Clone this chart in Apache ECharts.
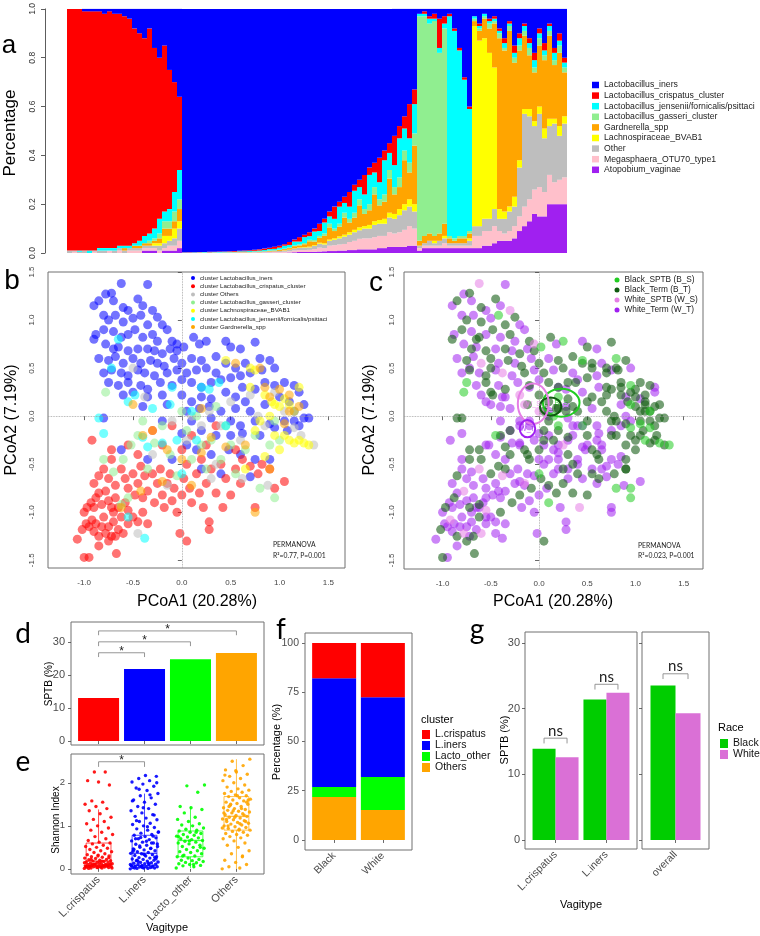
<!DOCTYPE html>
<html>
<head>
<meta charset="utf-8">
<title>Vagitype, race and SPTB</title>
<script src="https://cdn.jsdelivr.net/npm/echarts@6.0.0/dist/echarts.min.js"></script>
<style>
  html, body { margin: 0; padding: 0; background: #fff; }
  #chart { width: 760px; height: 936px; }
</style>
</head>
<body>
<div id="chart"></div>
<script>
const FONT = 'Liberation Sans';
const LETTER = 'Lato';

// ===== a: relative abundance per sample (100 samples, ordered by vagitype) =====
const taxa = ['Lactobacillus_iners', 'Lactobacillus_crispatus_cluster', 'Lactobacillus_jensenii/fornicalis/psittaci',
  'Lactobacillus_gasseri_cluster', 'Gardnerella_spp', 'Lachnospiraceae_BVAB1', 'Other', 'Megasphaera_OTU70_type1', 'Atopobium_vaginae'];
const taxaColors = ['#0000ff', '#ff0000', '#00ffff', '#90ee90', '#ffa500', '#ffff00', '#bebebe', '#ffc0cb', '#a020f0'];

const abIners = [0,0,0,1,1,1,1,2,1,2,2,3,4,8,10,12,8,16,20,15,25,30,36,
  99.7,99.7,99.7,99.6,99.6,99.5,99.5,99.4,99.4,99.3,99.2,99.1,99,98.9,98.7,98.5,98.2,97.8,97.4,97,96.4,95.5,94.5,93.5,92.5,91.5,90,88,86,83,81,79,77,75,72,70,68,65,63,61,58,55,52,48,44,39,33,
  2,1,3,2,4,3, 2,8,16,28,40, 3,6,2,4,3, 8,12,5,15,10,6,12,18,8,14,6,16,10,20];
const abCrisp = [99,99,99,98,98,98,97,96,97,96,95,94,93,88,85,81,84,74,66,68,57,45,30,
  0.1,0.1,0,0.1,0,0.2,0.1,0.2,0.1,0.2,0.3,0.2,0.3,0.3,0.4,0.5,0.6,0.6,0.9,0.8,0.6,1.2,0.8,1.8,1.0,1.6,1.2,3,1.5,2,5,2,2.5,6,2.5,3,8,3,4,10,4,4,12,5,5,14,6,
  0,1,1,2,12,3, 1,1,1,1,1, 0,1,0,1,1, 1,2,1,3,2,1,2,3,2,3,1,2,3,2];
const abJens = [0,0,0.5,0,1,0,1,1,1,1,1,1,1,1,2,3,3,4,6,4,5,8,12,
  0.1,0,0.1,0.1,0.2,0.1,0.1,0.2,0.2,0.2,0.2,0.3,0.3,0.4,0.3,0.4,0.5,0.6,0.6,0.8,1.2,1.0,1.6,1.2,2.4,1.5,3.5,2,4.5,3,4,7,4,5,9,5,6,12,6,7,14,7,9,16,9,10,12,
  1,1,2,1,2,2, 90,85,76,64,50, 1,1,1,1,1, 1,2,1,2,3,2,2,3,2,2,2,3,2,2];
const abGass = [0,0,0,0,0,0,0,0,0,0,0,0,0,0,0,0,1,1,2,3,3,4,4,
  0,0,0,0,0,0,0,0,0,0,0,0,0,0.1,0,0.1,0,0.1,0.1,0.2,0.2,0.3,0.3,0.4,0.5,0.6,0.6,0.8,1,1.5,1,1.2,2,1.5,2,2.5,2,2.5,3,2.5,3,3.5,3,4,4,4,5,
  92,90,86,88,74,80, 1,1,1,1,1, 1,1,1,2,1, 2,1,2,2,2,2,3,2,3,2,2,2,3,2];
const abGard = [0,0,0,0,0,0,0,0,0,0,0,1,0,1,1,1,1,1,2,3,3,3,5,
  0,0,0.1,0,0.1,0,0.1,0,0.1,0.1,0.1,0.1,0.1,0.1,0.2,0.2,0.2,0.3,0.3,0.4,0.5,0.6,0.9,0.8,1.2,2.2,1.5,2,3,5,3,4,7,4,5,9,5,6,11,6,7,14,8,9,18,11,24,
  2,3,3,2,3,5, 2,1,2,2,2, 2,4,8,10,18, 70,66,72,55,45,30,22,20,25,28,34,22,30,18];
const abBvab = [0,0,0,0,0,0,0,0,0,0,0,0,0,0,0,0,0,1,1,3,2,4,3,
  0,0,0,0,0,0,0,0,0,0,0,0,0,0,0,0,0,0,0,0,0.1,0.1,0.1,0.2,0.2,0.3,0.3,0.4,0.5,0.5,0.6,0.8,0.8,1,1,1.2,1,1.5,1.5,1.5,2,2,2,2.5,2.5,3,3,
  0,0,0,1,0,1, 0,0,0,0,1, 82,76,74,68,58, 4,3,2,4,3,2,3,2,3,4,3,2,4,3];
const abOther = [1,0.5,0.5,1,0,0.5,1,1,0,1,1,1,1,1,1,1,1,1,2,2,2,3,5,
  0.1,0.1,0.1,0.1,0.1,0.1,0.1,0.1,0.1,0.1,0.1,0.2,0.2,0.1,0.2,0.1,0.2,0.3,0.3,0.4,0.5,0.6,0.8,0.9,1.0,1.0,1.3,1.6,1.5,2,2.2,2.5,3,3,3.5,3.5,4,4,5,5,5,6,6,7,8,8,7,
  1,1,2,1,2,2, 1,1,1,1,2, 4,4,5,5,7, 5,6,8,8,20,38,34,26,30,22,20,24,18,22];
const abMega = [0,0.5,0,0,0,0.5,0,0,1,0,1,0,1,1,1,1,1,1,1,1,2,2,3,
  0,0.1,0,0.1,0,0.1,0.1,0.1,0.1,0.1,0.1,0.1,0.1,0.1,0.2,0.2,0.2,0.2,0.3,0.3,0.4,0.5,0.7,0.8,0.8,0.9,1.1,1.6,1.3,2.2,2.4,2.5,2.7,3.3,3.8,4.3,4.5,4.5,5,5,5,6,5.5,6,7,8,7,
  1,1,1,1,1,2, 1,1,1,1,1, 5,5,6,6,7, 4,3,4,5,6,8,9,10,12,10,12,9,10,11];
const abAtop = [0,0,0,0,0,0,0,0,0,0,0,0,0,0,0,1,1,1,0,1,1,1,2,
  0,0,0,0,0,0,0,0,0,0,0,0,0,0,0,0,0.1,0.1,0.1,0.1,0.1,0.2,0.3,0.4,0.4,0.4,0.5,0.6,0.7,0.8,0.8,1,1,1.2,1.2,1.5,1.5,1.5,1.5,2,2,2.5,2.5,2.5,2.5,3,3,
  1,2,2,2,2,2, 2,2,2,2,2, 2,2,3,3,4, 5,5,5,6,9,11,13,16,15,15,20,20,20,20];

const taxaValues = [abIners, abCrisp, abJens, abGass, abGard, abBvab, abOther, abMega, abAtop];
const sampleIds = abIners.map((_, i) => 'S' + (i + 1));
const sampleTotals = sampleIds.map((_, i) => taxaValues.reduce((s, arr) => s + arr[i], 0));

// ===== b / c: PCoA coordinates [PCoA1, PCoA2, race-outcome group] by vagitype cluster =====
// group: 0 Black_SPTB, 1 Black_Term, 2 White_SPTB, 3 White_Term
const inersPts = [
  [-0.62,1.38,2],[-0.35,1.37,3],[-0.78,1.27,3],[-0.72,1.28,1],[-0.9,1.15,3],[-0.85,1.2,1],[-0.7,1.2,3],[-0.6,1.13,1],[-0.55,1.1,3],[-0.45,1.22,1],[-0.4,1.15,3],[-0.3,1.1,2],[-0.25,1.03,1],
  [-0.8,1.05,3],[-0.75,1.0,1],[-0.68,1.05,3],[-0.6,0.98,1],[-0.5,1.02,3],[-0.42,1.05,0],[-0.35,0.95,1],[-0.2,0.95,3],[-0.15,0.9,3],
  [-0.88,0.85,3],[-0.8,0.9,1],[-0.7,0.88,3],[-0.62,0.82,1],[-0.55,0.85,3],[-0.48,0.9,1],[-0.4,0.82,3],[-0.3,0.85,1],[-0.25,0.78,3],[-0.1,0.78,1],[-0.05,0.75,2],
  [-0.9,0.8,1],[-0.78,0.75,3],[-0.7,0.7,1],[-0.65,0.72,3],[-0.55,0.68,1],[-0.45,0.7,3],[-0.35,0.7,1],[-0.28,0.68,3],[-0.2,0.65,1],[-0.12,0.7,3],[-0.05,0.68,1],[0.02,0.72,0],[0.12,0.82,1],[0.18,0.75,3],[0.25,0.78,0],
  [-0.85,0.6,3],[-0.75,0.58,1],[-0.68,0.62,3],[-0.6,0.55,2],[-0.5,0.6,1],[-0.42,0.55,3],[-0.32,0.58,1],[-0.25,0.55,3],[-0.18,0.52,1],[-0.08,0.6,3],[0.0,0.55,1],[0.1,0.6,3],[0.2,0.58,1],[0.35,0.62,1],[0.45,0.78,3],[0.5,0.72,1],[0.6,0.7,3],[0.75,0.77,1],
  [-0.8,0.45,3],[-0.72,0.48,1],[-0.62,0.45,3],[-0.55,0.42,1],[-0.45,0.48,3],[-0.38,0.45,2],[-0.28,0.42,3],[-0.15,0.45,1],[-0.05,0.48,3],[0.05,0.45,1],[0.15,0.48,3],[0.25,0.5,1],[0.35,0.45,3],[0.45,0.55,1],[0.55,0.5,1],[0.65,0.55,3],[0.8,0.6,0],[0.9,0.58,1],
  [-0.75,0.35,0],[-0.65,0.32,3],[-0.55,0.35,1],[-0.42,0.32,3],[-0.35,0.28,1],[-0.22,0.35,3],[-0.1,0.32,1],[0.0,0.38,3],[0.1,0.35,1],[0.2,0.3,3],[0.3,0.35,1],[0.4,0.38,3],[0.5,0.4,1],[0.6,0.42,3],[0.7,0.45,1],[0.82,0.48,1],[0.95,0.5,3],
  [-0.6,0.22,3],[-0.5,0.25,1],[-0.35,0.2,3],[-0.2,0.22,2],[0.0,0.22,1],[0.1,0.15,1],[0.2,0.2,0],[0.3,0.18,1],[0.45,0.25,3],[0.55,0.2,1],[0.62,0.3,3],[0.75,0.28,1],[0.85,0.35,1],[0.95,0.32,0],[1.05,0.35,1],[1.15,0.32,1],[1.2,0.25,3],
  [-0.4,0.1,3],[-0.15,0.12,2],[0.05,0.05,1],[0.18,0.08,1],[0.28,0.1,3],[0.4,0.05,1],[0.55,0.08,3],[0.65,0.15,1],[0.7,0.05,1],[0.85,0.12,3],[1.0,0.2,1],[1.1,0.15,1],[1.25,0.12,1],[1.15,0.05,0],
  [-0.8,-0.02,1],[-0.2,-0.05,3],[0.1,-0.05,1],[0.3,-0.02,3],[0.5,-0.05,1],[0.6,-0.1,3],[0.75,-0.05,1],[0.9,-0.08,1],[1.05,-0.05,1],[1.15,-0.05,1],[1.25,-0.02,1],[1.2,-0.1,1],[1.3,-0.02,1],
  [0.0,-0.18,3],[0.2,-0.15,1],[0.35,-0.2,3],[0.5,-0.2,1],[0.62,-0.18,3],[0.8,-0.2,1],[0.95,-0.12,0],[1.08,-0.15,1],
  [0.15,-0.35,3],[0.3,-0.4,1],[0.48,-0.35,3],[0.6,-0.4,1],[0.75,-0.45,3],[0.2,-0.55,3],[0.4,-0.6,1],[0.7,-0.63,3],[-0.62,-0.35,1],[-0.35,-0.45,3],[-0.1,-0.45,1],[0.05,-0.3,3],[0.9,-0.45,1]
];
const crispPts = [
  [-1.0,-1.47,1],[-0.95,-1.47,3],[-0.67,-1.43,1],[-1.07,-1.28,3],[-1.02,-1.18,1],[-0.98,-1.12,3],[-0.95,-1.15,3],[-0.92,-1.08,2],[-0.9,-1.2,3],[-0.88,-1.12,3],[-0.85,-1.25,1],[-0.82,-1.15,3],[-0.8,-1.05,3],[-0.78,-1.22,2],[-0.75,-1.15,3],[-0.72,-1.25,3],[-0.7,-1.1,3],[-0.68,-1.25,1],[-0.65,-1.18,3],[-0.6,-1.22,2],[-0.55,-1.12,3],
  [-1.0,-1.0,3],[-0.97,-0.95,1],[-0.93,-0.9,3],[-0.9,-0.95,3],[-0.88,-0.85,1],[-0.85,-0.8,3],[-0.82,-0.92,3],[-0.78,-0.78,2],[-0.75,-0.88,3],[-0.72,-0.95,1],[-0.7,-1.0,3],[-0.68,-0.85,3],[-0.65,-0.95,3],[-0.62,-1.05,1],[-0.58,-0.9,3],[-0.55,-0.98,2],[-0.5,-1.05,3],[-0.45,-1.1,3],[-0.4,-1.0,1],[-0.35,-1.12,3],
  [-0.9,-0.7,3],[-0.85,-0.62,1],[-0.8,-0.55,3],[-0.75,-0.65,3],[-0.72,-0.45,1],[-0.68,-0.72,3],[-0.62,-0.55,2],[-0.58,-0.65,3],[-0.55,-0.75,3],[-0.5,-0.6,1],[-0.48,-0.82,3],[-0.45,-0.7,3],[-0.42,-0.52,1],[-0.4,-0.85,3],[-0.38,-0.62,2],[-0.35,-0.78,3],[-0.3,-0.6,3],[-0.28,-0.9,1],[-0.25,-0.7,3],[-0.22,-0.55,3],[-0.2,-0.82,1],[-0.18,-0.95,3],[-0.15,-0.7,2],[-0.12,-0.6,3],[-0.1,-0.88,3],[-0.08,-0.75,1],[-0.05,-1.0,3],
  [0.0,-0.82,3],[0.02,-0.65,1],[0.05,-0.5,3],[0.08,-0.75,3],[0.1,-0.9,0],[0.15,-0.6,3],[0.18,-0.8,1],[0.2,-0.45,3],[0.22,-0.95,3],[0.25,-0.7,1],[0.28,-1.1,3],[0.3,-0.55,3],[0.35,-0.8,1],[0.4,-0.5,3],[0.42,-0.95,2],[0.45,-0.65,3],[0.5,-0.82,1],[0.55,-0.55,3],[0.6,-0.7,3],[0.62,-0.45,1],[0.7,-0.52,3],[0.75,-0.95,3],[0.78,-0.6,1],[0.82,-0.5,3],[0.9,-0.55,1],[0.95,-0.75,0],[1.05,-0.68,3],
  [-0.92,-0.25,3],[-0.72,-0.35,1],[-0.55,-0.3,3],[-0.45,-0.4,3],[-0.3,-0.15,1],[-0.2,-0.3,3],[-0.1,-0.1,3],[0.0,-0.35,1],[0.1,-0.2,3],[0.25,-0.3,2],[0.35,-0.1,3],[0.55,-0.35,1],
  [0.05,-1.3,1],[-0.02,-1.22,3],[0.28,-1.18,3],[-0.85,-1.35,3],[-0.75,-1.3,1]
];
const othersPts = [[-0.45,-1.22,3],[-0.3,-0.4,1],[-0.1,-0.05,3],[0.05,-0.25,1],[0.1,0.0,3],[0.2,-0.1,0],[0.28,0.05,1],[0.4,-0.1,3],[0.5,0.15,1],[0.6,-0.25,3],[0.7,0.22,1],[0.78,0.0,1],[0.85,-0.1,3],
  [0.95,0.25,1],[1.05,0.05,1],[1.15,-0.12,0],[1.22,-0.2,1],[1.35,-0.3,0],[0.3,-0.65,3],[0.62,-0.65,1],[0.88,-0.72,3],[-0.15,-0.72,3],[0.35,-0.5,1],[-0.38,0.2,3],[-0.5,0.5,1]];
const gasseriPts = [[-0.8,-0.45,3],[-0.7,-0.58,3],[-0.6,-0.45,1],[-0.52,-0.3,3],[-0.45,-0.2,0],[-0.4,-0.05,3],[-0.35,-0.55,1],[-0.28,-0.28,3],[-0.2,-0.1,3],[-0.12,-0.4,1],[-0.05,-0.62,3],[0.0,0.05,2],
  [0.05,-0.15,1],[0.1,-0.45,3],[0.15,0.0,0],[0.2,-0.3,3],[0.25,-0.55,1],[0.3,-0.25,3],[0.35,0.1,1],[0.4,-0.45,3],[0.45,-0.1,0],[0.5,-0.3,3],[0.55,-0.6,1],[0.65,-0.35,3],[0.75,-0.2,1],[0.8,-0.75,0],
  [0.9,-0.3,1],[0.95,-0.05,3],[1.0,-0.25,1],[0.95,-0.85,0],[-0.78,0.25,0],[-0.55,-0.85,3],[-0.62,-0.92,1]];
const bvabPts = [[0.7,0.5,1],[0.75,0.48,3],[0.45,0.58,0],[0.85,0.22,1],[0.92,0.15,1],[0.95,0.12,0],[1.0,0.1,1],[1.05,0.18,3],[1.1,0.12,1],[1.15,0.05,1],[0.9,0.0,3],[0.8,-0.05,1],[0.75,-0.15,3],
  [0.95,-0.2,1],[1.05,-0.2,1],[1.1,-0.25,0],[1.15,-0.28,1],[1.2,-0.25,1],[1.25,-0.28,0],[1.3,-0.3,1],[1.0,-0.35,1],[0.85,-0.42,3],[0.65,-0.55,3],[0.7,0.3,1],[1.2,0.3,3]];
const jensPts = [[-0.85,-0.02,1],[-0.8,-0.18,3],[-0.72,0.5,3],[-0.65,0.8,1],[-0.55,0.15,3],[-0.48,0.22,1],[-0.4,-0.22,3],[-0.35,-0.32,1],[-0.3,0.08,3],[-0.2,-0.28,3],[-0.12,0.12,1],
  [-0.05,-0.25,3],[0.0,-0.6,0],[0.1,0.05,3],[0.2,0.3,1],[0.28,0.28,3],[0.38,0.35,1],[0.45,-0.1,3],[-0.55,-1.05,3],[-0.38,-1.27,3],[0.15,-0.25,1],[-0.1,0.3,3]];
const gardPts = [[-0.5,0.12,3],[-0.4,-0.2,1],[-0.3,-0.15,3],[-0.2,-0.68,3],[-0.15,-0.35,1],[-0.62,-0.95,3],[0.0,-0.45,3],[0.1,-0.72,1],[0.2,-0.38,3],[0.3,-0.22,1],[0.45,-0.32,3],[0.55,0.55,1],
  [0.65,-0.3,3],[0.8,0.5,1],[0.85,0.3,1],[0.9,0.2,3],[1.0,0.28,1],[1.1,0.22,1],[1.05,-0.08,0],[1.1,0.05,1],[1.2,0.1,1],[0.75,-1.0,3],[0.9,-0.55,1],[-0.42,-0.78,3],[0.2,0.08,1]];

const bClusterNames = ['cluster Lactobacillus_iners', 'cluster Lactobacillus_crispatus_cluster', 'cluster Others',
  'cluster Lactobacillus_gasseri_cluster', 'cluster Lachnospiraceae_BVAB1', 'cluster Lactobacillus_jensenii/fornicalis/psittaci', 'cluster Gardnerella_spp'];
const bClusterColors = ['#0000ff', '#ff0000', '#bebebe', '#90ee90', '#ffff00', '#00ffff', '#ffa500'];
const bClusterPts = [inersPts, crispPts, othersPts, gasseriPts, bvabPts, jensPts, gardPts];

const cGroupNames = ['Black_SPTB (B_S)', 'Black_Term (B_T)', 'White_SPTB (W_S)', 'White_Term (W_T)'];
const cGroupColors = ['#22cc22', '#0f5a0f', '#e57ee5', '#a020f0'];
// group centroid ellipses
const cEllipseLabels = ['B_S', 'B_T', 'W_S', 'W_T'];
const cEllipseCx = [0.23, 0.12, -0.06, -0.12];
const cEllipseCy = [0.14, 0.10, 0.13, -0.13];
const cEllipseRx = [0.19, 0.11, 0.16, 0.08];
const cEllipseRy = [0.145, 0.095, 0.21, 0.09];

// ===== d / e: SPTB rate and Shannon index per vagitype =====
const vagitypes = ['L.crispatus', 'L.iners', 'Lacto_other', 'Others'];
const vagColors = ['#ff0000', '#0000ff', '#00ff00', '#ffa500'];
const dSptb = [13.0, 21.8, 24.7, 26.6];
const dBracketFrom = [1, 1, 1];
const dBracketTo = [2, 3, 4];
const dBracketY = [26.7, 30.0, 33.3];

const crispShannon = [0.01,0.02,0.02,0.03,0.03,0.04,0.04,0.05,0.05,0.05,0.06,0.06,0.07,0.07,0.08,0.08,0.09,0.09,0.1,0.1,0.11,0.12,0.12,0.13,0.14,0.15,0.16,0.17,0.18,0.19,
  0.2,0.21,0.22,0.24,0.25,0.27,0.28,0.3,0.32,0.33,0.35,0.38,0.4,0.42,0.45,0.48,0.5,0.52,0.55,0.58,0.6,0.62,0.66,0.7,0.75,0.8,0.85,0.9,0.95,1.0,1.05,1.1,1.15,1.2,1.28,1.35,
  1.4,1.45,1.5,1.55,1.58,1.95,2.02,2.05,2.25,2.25,0.02,0.04,0.06,0.08,0.03,0.05,0.07,0.1,0.12,0.15,0.01,0.09,0.11,0.14,0.18,0.22,0.26,0.3];
const inersShannon = [0.0,0.01,0.01,0.02,0.02,0.03,0.03,0.04,0.05,0.05,0.06,0.07,0.08,0.08,0.09,0.1,0.11,0.12,0.13,0.14,0.15,0.16,0.18,0.19,0.2,0.22,0.23,0.25,0.26,0.28,
  0.3,0.31,0.33,0.35,0.36,0.38,0.4,0.42,0.44,0.46,0.48,0.5,0.52,0.55,0.57,0.6,0.62,0.65,0.68,0.7,0.72,0.75,0.78,0.8,0.83,0.86,0.9,0.93,0.96,1.0,1.03,1.06,1.1,1.14,1.18,
  1.22,1.26,1.3,1.35,1.4,1.45,1.5,1.55,1.6,1.65,1.7,1.75,1.82,1.88,1.92,1.97,2.02,2.05,2.1,2.15,2.17,0.02,0.04,0.06,0.1,0.14,0.2,0.27,0.34,0.41,0.47,0.53,0.58,0.64,0.7,
  0.76,0.03,0.07,0.12,0.17,0.24,0.32,0.45,0.6,0.73,0.85,0.98,1.12,1.25,1.42,1.58,1.72,1.85,2.0];
const lactoShannon = [0.02,0.05,0.07,0.08,0.1,0.12,0.14,0.15,0.17,0.19,0.2,0.22,0.25,0.28,0.3,0.32,0.35,0.38,0.4,0.42,0.45,0.48,0.5,0.52,0.55,0.58,0.6,0.62,0.64,0.66,
  0.68,0.7,0.72,0.74,0.76,0.78,0.8,0.82,0.85,0.88,0.9,0.92,0.95,1.0,1.02,1.05,1.1,1.15,1.2,1.3,1.38,1.42,1.45,1.78,1.93,1.95,0.1,0.3,0.5,0.65,0.75,0.85];
const othersShannon = [0.0,0.02,0.05,0.1,0.15,0.2,0.28,0.35,0.42,0.5,0.55,0.6,0.65,0.7,0.72,0.75,0.78,0.8,0.82,0.85,0.87,0.9,0.92,0.94,0.96,0.98,1.0,1.02,1.04,1.06,
  1.08,1.1,1.12,1.14,1.16,1.18,1.2,1.22,1.24,1.26,1.28,1.3,1.32,1.34,1.36,1.38,1.4,1.42,1.45,1.48,1.5,1.52,1.55,1.58,1.6,1.62,1.65,1.68,1.7,1.72,1.75,1.78,1.8,1.83,1.86,
  1.9,1.95,2.0,2.05,2.1,2.15,2.2,2.25,2.3,2.4,2.5,2.55,0.9,1.0,1.1,1.2,1.3,1.4,1.5,1.6,1.7,1.15,1.25,1.35,0.95,1.05,1.45,1.55,2.28,2.18,0.3];
const eShannon = [crispShannon, inersShannon, lactoShannon, othersShannon];
// box statistics
const eBoxLow = [0, 0, 0.02, 0];
const eBoxQ1 = [0.07, 0.08, 0.28, 0.9];
const eBoxMed = [0.18, 0.36, 0.66, 1.22];
const eBoxQ3 = [0.6, 0.78, 0.88, 1.68];
const eBoxHigh = [1.38, 1.75, 1.45, 2.55];

// ===== f: vagitype composition by race =====
const races = ['Black', 'White'];
const raceColors = ['#00cd00', '#da70d6'];
const fCrispatus = [17.9, 27.5];
const fIners = [55.2, 40.5];
const fLactoOther = [5.1, 16.8];
const fOthers = [21.8, 15.2];

// ===== g: SPTB by race within vagitype =====
const gVagitypes = ['L.crispatus', 'L.iners'];
const gBlack = [13.9, 21.4];
const gWhite = [12.6, 22.4];
const gOverall = [23.5, 19.3];
const gBracketY = [15.5, 23.7];
const gOverallBracketY = 25.3;

// ---------- helpers ----------
const jitter = i => (((i * 0.618034) % 1) - 0.5) * 0.62;

function valueAxis(grid, min, max, ticks, label, tick) {
  return {
    type: 'value', gridIndex: grid, min: min, max: max,
    axisLine: { show: false },
    splitLine: { show: false },
    axisTick: Object.assign({ show: true, customValues: ticks, length: 3, lineStyle: { color: '#444', width: 0.8 } }, tick || {}),
    axisLabel: Object.assign({ customValues: ticks, fontSize: 10.5, color: '#4d4d4d', margin: 6, fontFamily: FONT }, label || {})
  };
}

function bracketSeries(xi, yi, rows, tip, text, opts) {
  return {
    type: 'custom', xAxisIndex: xi, yAxisIndex: yi, silent: true, z: 6,
    data: rows,
    renderItem(params, api) {
      const y = api.value(2);
      const spread = opts.spread || 0;
      const xl = api.coord([api.value(0), y])[0] - spread;
      const xr = api.coord([api.value(1), y])[0] + spread;
      const yTop = api.coord([api.value(0), y])[1];
      const yLow = api.coord([api.value(0), y - tip])[1];
      return {
        type: 'group', children: [
          { type: 'polyline', shape: { points: [[xl, yLow], [xl, yTop], [xr, yTop], [xr, yLow]] },
            style: { stroke: '#8a8a8a', lineWidth: 0.9, fill: null } },
          { type: 'text', x: (xl + xr) / 2, y: yTop + opts.dy,
            style: { text: text, fontSize: opts.size, fontFamily: opts.font, fill: '#222', align: 'center', verticalAlign: 'bottom' } }
        ]
      };
    }
  };
}

const zeroLines = {
  silent: true, symbol: ['none', 'none'], label: { show: false }, animation: false,
  lineStyle: { type: 'dotted', color: '#9a9a9a', width: 0.8 },
  data: [{ xAxis: 0 }, { yAxis: 0 }]
};

function txt(text, x, y, size, o) {
  o = o || {};
  return {
    type: 'text', x: x, y: y, rotation: o.rot || 0, silent: true, z: 100,
    style: { text: text, fontSize: size, fontFamily: o.font || FONT, fill: o.color || '#000',
      align: o.align || 'center', verticalAlign: 'middle' }
  };
}

// ---------- series ----------
const aSeries = taxa.map((name, k) => ({
  type: 'bar', name: name, xAxisIndex: 0, yAxisIndex: 0, stack: 'a', barCategoryGap: '0%',
  itemStyle: { color: taxaColors[k] },
  data: taxaValues[k].map((v, i) => v / sampleTotals[i])
})).reverse();

const bSeries = bClusterNames.map((name, k) => ({
  type: 'scatter', name: name, xAxisIndex: 1, yAxisIndex: 1, symbolSize: 9,
  itemStyle: { color: bClusterColors[k], opacity: 0.55 },
  data: bClusterPts[k].map(p => [p[0], p[1]]),
  markLine: k === 0 ? zeroLines : undefined
}));

const allPts = bClusterPts.flat();
const cSeries = [3, 1, 2, 0].map((g, j) => ({
  type: 'scatter', name: cGroupNames[g], xAxisIndex: 2, yAxisIndex: 2, symbolSize: 9,
  itemStyle: { color: cGroupColors[g], opacity: g === 1 ? 0.58 : 0.55 },
  data: allPts.filter(p => p[2] === g).map(p => [p[0], p[1]]),
  markLine: j === 0 ? zeroLines : undefined
}));

const cEllipses = {
  type: 'custom', name: 'centroids', xAxisIndex: 2, yAxisIndex: 2, silent: true, z: 5,
  data: cEllipseLabels.map((_, i) => [cEllipseCx[i], cEllipseCy[i], cEllipseRx[i], cEllipseRy[i]]),
  renderItem(params, api) {
    const c = api.coord([api.value(0), api.value(1)]);
    const s = api.size([api.value(2), api.value(3)]);
    const col = cGroupColors[params.dataIndex];
    return {
      type: 'group', children: [
        { type: 'ellipse', shape: { cx: c[0], cy: c[1], rx: s[0], ry: s[1] }, style: { fill: 'none', stroke: col, lineWidth: 2 } },
        { type: 'text', x: c[0], y: c[1], style: { text: cEllipseLabels[params.dataIndex], fill: col, opacity: 0.75,
          fontSize: 7, fontFamily: FONT, align: 'center', verticalAlign: 'middle' } }
      ]
    };
  }
};

const dSeries = {
  type: 'bar', name: 'SPTB by vagitype', xAxisIndex: 3, yAxisIndex: 3, barWidth: 41,
  itemStyle: { color: p => vagColors[p.dataIndex] },
  data: dSptb.map((v, i) => [i + 1, v])
};

const eBoxes = {
  type: 'custom', name: 'shannon box', xAxisIndex: 4, yAxisIndex: 4, silent: true, z: 2,
  data: eBoxMed.map((m, i) => [i + 1, eBoxLow[i], eBoxQ1[i], m, eBoxQ3[i], eBoxHigh[i]]),
  renderItem(params, api) {
    const x = api.value(0);
    const col = vagColors[params.dataIndex];
    const hw = api.size([0.27, 0])[0];
    const cx = api.coord([x, 0])[0];
    const y = k => api.coord([x, api.value(k)])[1];
    const seg = (x1, y1, x2, y2, w) => ({ type: 'line', shape: { x1: x1, y1: y1, x2: x2, y2: y2 }, style: { stroke: col, lineWidth: w, opacity: 0.7 } });
    return {
      type: 'group', children: [
        seg(cx, y(1), cx, y(2), 1),
        seg(cx, y(4), cx, y(5), 1),
        { type: 'rect', shape: { x: cx - hw, y: y(4), width: 2 * hw, height: y(2) - y(4) },
          style: { fill: 'rgba(255,255,255,0.3)', stroke: col, lineWidth: 1, opacity: 0.7 } },
        seg(cx - hw, y(3), cx + hw, y(3), 1.4)
      ]
    };
  }
};

const ePoints = eShannon.map((vals, k) => ({
  type: 'scatter', name: 'shannon ' + vagitypes[k], xAxisIndex: 4, yAxisIndex: 4, symbolSize: 3.4, z: 3,
  itemStyle: { color: vagColors[k], opacity: 0.9 },
  data: vals.map((v, i) => [k + 1 + jitter(i), v])
}));

// f uses a category axis so the four clusters stack
const fValues = [fCrispatus, fIners, fLactoOther, fOthers];
const fSeries = vagitypes.map((name, k) => ({
  type: 'bar', name: name, xAxisIndex: 5, yAxisIndex: 5, stack: 'f', barWidth: 44,
  itemStyle: { color: vagColors[k] },
  data: fValues[k]
})).reverse();

const gSeries = [
  { type: 'bar', name: 'Black', xAxisIndex: 6, yAxisIndex: 6, barWidth: 23, barGap: '0%', itemStyle: { color: raceColors[0] }, data: gBlack.map((v, i) => [i + 1, v]) },
  { type: 'bar', name: 'White', xAxisIndex: 6, yAxisIndex: 6, barWidth: 23, barGap: '0%', itemStyle: { color: raceColors[1] }, data: gWhite.map((v, i) => [i + 1, v]) },
  { type: 'bar', name: 'Black', xAxisIndex: 7, yAxisIndex: 7, barWidth: 25, barGap: '0%', itemStyle: { color: raceColors[0] }, data: [[1, gOverall[0]]] },
  { type: 'bar', name: 'White', xAxisIndex: 7, yAxisIndex: 7, barWidth: 25, barGap: '0%', itemStyle: { color: raceColors[1] }, data: [[1, gOverall[1]]] }
];

const starOpts = { size: 12, font: FONT, dy: 5 };
const nsOpts = { size: 15, font: LETTER, dy: 0 };
const brackets = [
  bracketSeries(3, 3, dBracketY.map((y, i) => [dBracketFrom[i], dBracketTo[i], y]), 1.3, '*', starOpts),
  bracketSeries(4, 4, [[1, 2, 2.49]], 0.12, '*', starOpts),
  bracketSeries(6, 6, gBracketY.map((y, i) => [i + 1, i + 1, y]), 0.8, 'ns', Object.assign({ spread: 11.5 }, nsOpts)),
  bracketSeries(7, 7, [[1, 1, gOverallBracketY]], 0.8, 'ns', Object.assign({ spread: 12.5 }, nsOpts))
];

// ---------- layout ----------
const panelBorder = { show: true, backgroundColor: 'transparent', borderColor: '#707070', borderWidth: 1 };
const grids = [
  { left: 67, top: 7, width: 500, height: 246 },                        // a
  Object.assign({ left: 48, top: 272, width: 297, height: 296 }, panelBorder),  // b
  Object.assign({ left: 404, top: 272, width: 299, height: 297 }, panelBorder), // c
  Object.assign({ left: 71, top: 622, width: 193, height: 123 }, panelBorder),  // d
  Object.assign({ left: 71, top: 754, width: 193, height: 120 }, panelBorder),  // e
  { left: 309.75, top: 633, width: 97.5, height: 217 },                          // f (border drawn below)
  Object.assign({ left: 525, top: 632, width: 112, height: 217 }, panelBorder), // g (vagitypes)
  Object.assign({ left: 642, top: 632, width: 67, height: 217 }, panelBorder)   // g (overall)
];

const pcoaTicksX = [-1, -0.5, 0, 0.5, 1, 1.5];
const pcoaTicksY = [-1.5, -1, -0.5, 0, 0.5, 1, 1.5];
const oneDec = v => v.toFixed(1);
const tiny = { fontSize: 8, color: '#444', formatter: oneDec };

const xAxes = [
  { type: 'category', gridIndex: 0, data: sampleIds, show: false },
  valueAxis(1, -1.37, 1.67, pcoaTicksX, Object.assign({ margin: 11 }, tiny), { length: 4 }),
  valueAxis(2, -1.4, 1.7, pcoaTicksX, Object.assign({ margin: 11 }, tiny), { length: 4 }),
  valueAxis(3, 0.4, 4.6, [1, 2, 3, 4], { show: false }),
  valueAxis(4, 0.4, 4.6, [1, 2, 3, 4], { rotate: 45, fontSize: 11, margin: 4, formatter: v => vagitypes[Math.round(v) - 1] }),
  { type: 'category', gridIndex: 5, data: races,
    axisLine: { show: false }, splitLine: { show: false },
    axisTick: { show: true, alignWithLabel: true, length: 3, lineStyle: { color: '#444', width: 0.8 } },
    axisLabel: { rotate: 45, fontSize: 10.5, color: '#4d4d4d', margin: 4, fontFamily: FONT } },
  valueAxis(6, 0.4, 2.6, [1, 2], { rotate: 45, fontSize: 10.5, margin: 4, formatter: v => gVagitypes[Math.round(v) - 1] }),
  valueAxis(7, 0.4, 1.6, [1], { rotate: 45, fontSize: 10.5, margin: 4, formatter: () => 'overall' })
];

const yAxes = [
  { type: 'value', gridIndex: 0, min: 0, max: 1, interval: 0.2, offset: 22,
    axisLine: { show: true, lineStyle: { color: '#333', width: 0.8 } },
    axisTick: { show: true, length: 4, lineStyle: { color: '#333', width: 0.8 } },
    axisLabel: { rotate: 90, fontSize: 8.5, color: '#333', margin: 8, formatter: oneDec, fontFamily: FONT },
    splitLine: { show: false } },
  valueAxis(1, -1.58, 1.5, pcoaTicksY, Object.assign({ rotate: 90, margin: 12 }, tiny), { length: 4 }),
  valueAxis(2, -1.59, 1.5, pcoaTicksY, Object.assign({ rotate: 90, margin: 8 }, tiny), { length: 4 }),
  valueAxis(3, -1.2, 36, [0, 10, 20, 30], { fontSize: 11 }),
  valueAxis(4, -0.12, 2.67, [0, 1, 2], { fontSize: 9.5 }),
  Object.assign(valueAxis(5, -5.1, 105.1, [0, 25, 50, 75, 100], { fontSize: 10.5 }), { offset: 4.75 }),
  valueAxis(6, -1.37, 31.66, [0, 10, 20, 30], { fontSize: 11, margin: 5 }),
  valueAxis(7, -1.37, 31.66, [0, 10, 20, 30], { show: false })
];

const legendBase = { selectedMode: false, padding: 0, itemGap: 0, orient: 'vertical' };
const legends = [
  Object.assign({ data: taxa, left: 592, top: 79.7, icon: 'rect', itemWidth: 7, itemHeight: 6.5,
    textStyle: { fontSize: 8.7, lineHeight: 10.6, color: '#222', fontFamily: FONT } }, legendBase),
  Object.assign({ data: bClusterNames, left: 191, top: 274, icon: 'circle', itemWidth: 4, itemHeight: 4,
    itemStyle: { opacity: 1 }, textStyle: { fontSize: 6.2, lineHeight: 8.17, color: '#222', fontFamily: FONT } }, legendBase),
  Object.assign({ data: cGroupNames, left: 614.5, top: 275, icon: 'circle', itemWidth: 5, itemHeight: 5,
    itemStyle: { opacity: 1 }, textStyle: { fontSize: 8.3, lineHeight: 10, color: '#222', fontFamily: FONT } }, legendBase),
  Object.assign({ data: vagitypes, left: 422, top: 729, icon: 'rect', itemWidth: 8, itemHeight: 9,
    textStyle: { fontSize: 10.5, lineHeight: 10, color: '#111', fontFamily: FONT } }, legendBase),
  Object.assign({ data: races, left: 720, top: 738, icon: 'rect', itemWidth: 8, itemHeight: 9,
    textStyle: { fontSize: 10.5, lineHeight: 10, color: '#111', fontFamily: FONT } }, legendBase)
];

const R90 = Math.PI / 2;
const texts = [
  { type: 'rect', silent: true, z: 100, shape: { x: 305, y: 633, width: 107, height: 217 },
    style: { fill: 'none', stroke: '#707070', lineWidth: 1 } },
  txt('a', 9, 46, 26),
  txt('Percentage', 10, 133, 17, { rot: R90 }),
  txt('b', 12, 281, 28),
  txt('c', 376, 283, 28),
  txt('PCoA2 (7.19%)', 12, 420, 16, { rot: R90 }),
  txt('PCoA2 (7.19%)', 370, 420, 16, { rot: R90 }),
  txt('PCoA1 (20.28%)', 197, 602, 16),
  txt('PCoA1 (20.28%)', 553, 602, 16),
  txt('PERMANOVA', 273, 545, 6.8, { font: LETTER, align: 'left', color: '#222' }),
  txt('R\u00b2=0.77, P=0.001', 273, 556, 6.8, { font: LETTER, align: 'left', color: '#222' }),
  txt('PERMANOVA', 638, 546, 6.8, { font: LETTER, align: 'left', color: '#222' }),
  txt('R\u00b2=0.023, P=0.001', 638, 556, 6.8, { font: LETTER, align: 'left', color: '#222' }),
  txt('d', 23, 634, 28, { font: LETTER }),
  txt('e', 23, 762, 28, { font: LETTER }),
  txt('f', 281, 630, 28, { font: LETTER }),
  txt('g', 477, 630, 28, { font: LETTER }),
  txt('SPTB (%)', 49, 684, 10, { rot: R90 }),
  txt('Shannon Index', 56, 820, 10, { rot: R90 }),
  txt('Vagitype', 167, 928, 11),
  txt('Percentage (%)', 277, 742, 11, { rot: R90 }),
  txt('cluster', 421, 720, 11, { align: 'left' }),
  txt('SPTB (%)', 505, 740, 11, { rot: R90 }),
  txt('Vagitype', 581, 905, 11),
  txt('Race', 718, 728, 11, { align: 'left' })
];

const chart = echarts.init(document.getElementById('chart'));
chart.setOption({
  animation: false,
  backgroundColor: '#fff',
  textStyle: { fontFamily: FONT },
  grid: grids,
  xAxis: xAxes,
  yAxis: yAxes,
  legend: legends,
  series: [].concat(aSeries, bSeries, cSeries, [cEllipses, dSeries, eBoxes], ePoints, fSeries, gSeries, brackets),
  graphic: { elements: texts }
});
</script>
</body>
</html>
